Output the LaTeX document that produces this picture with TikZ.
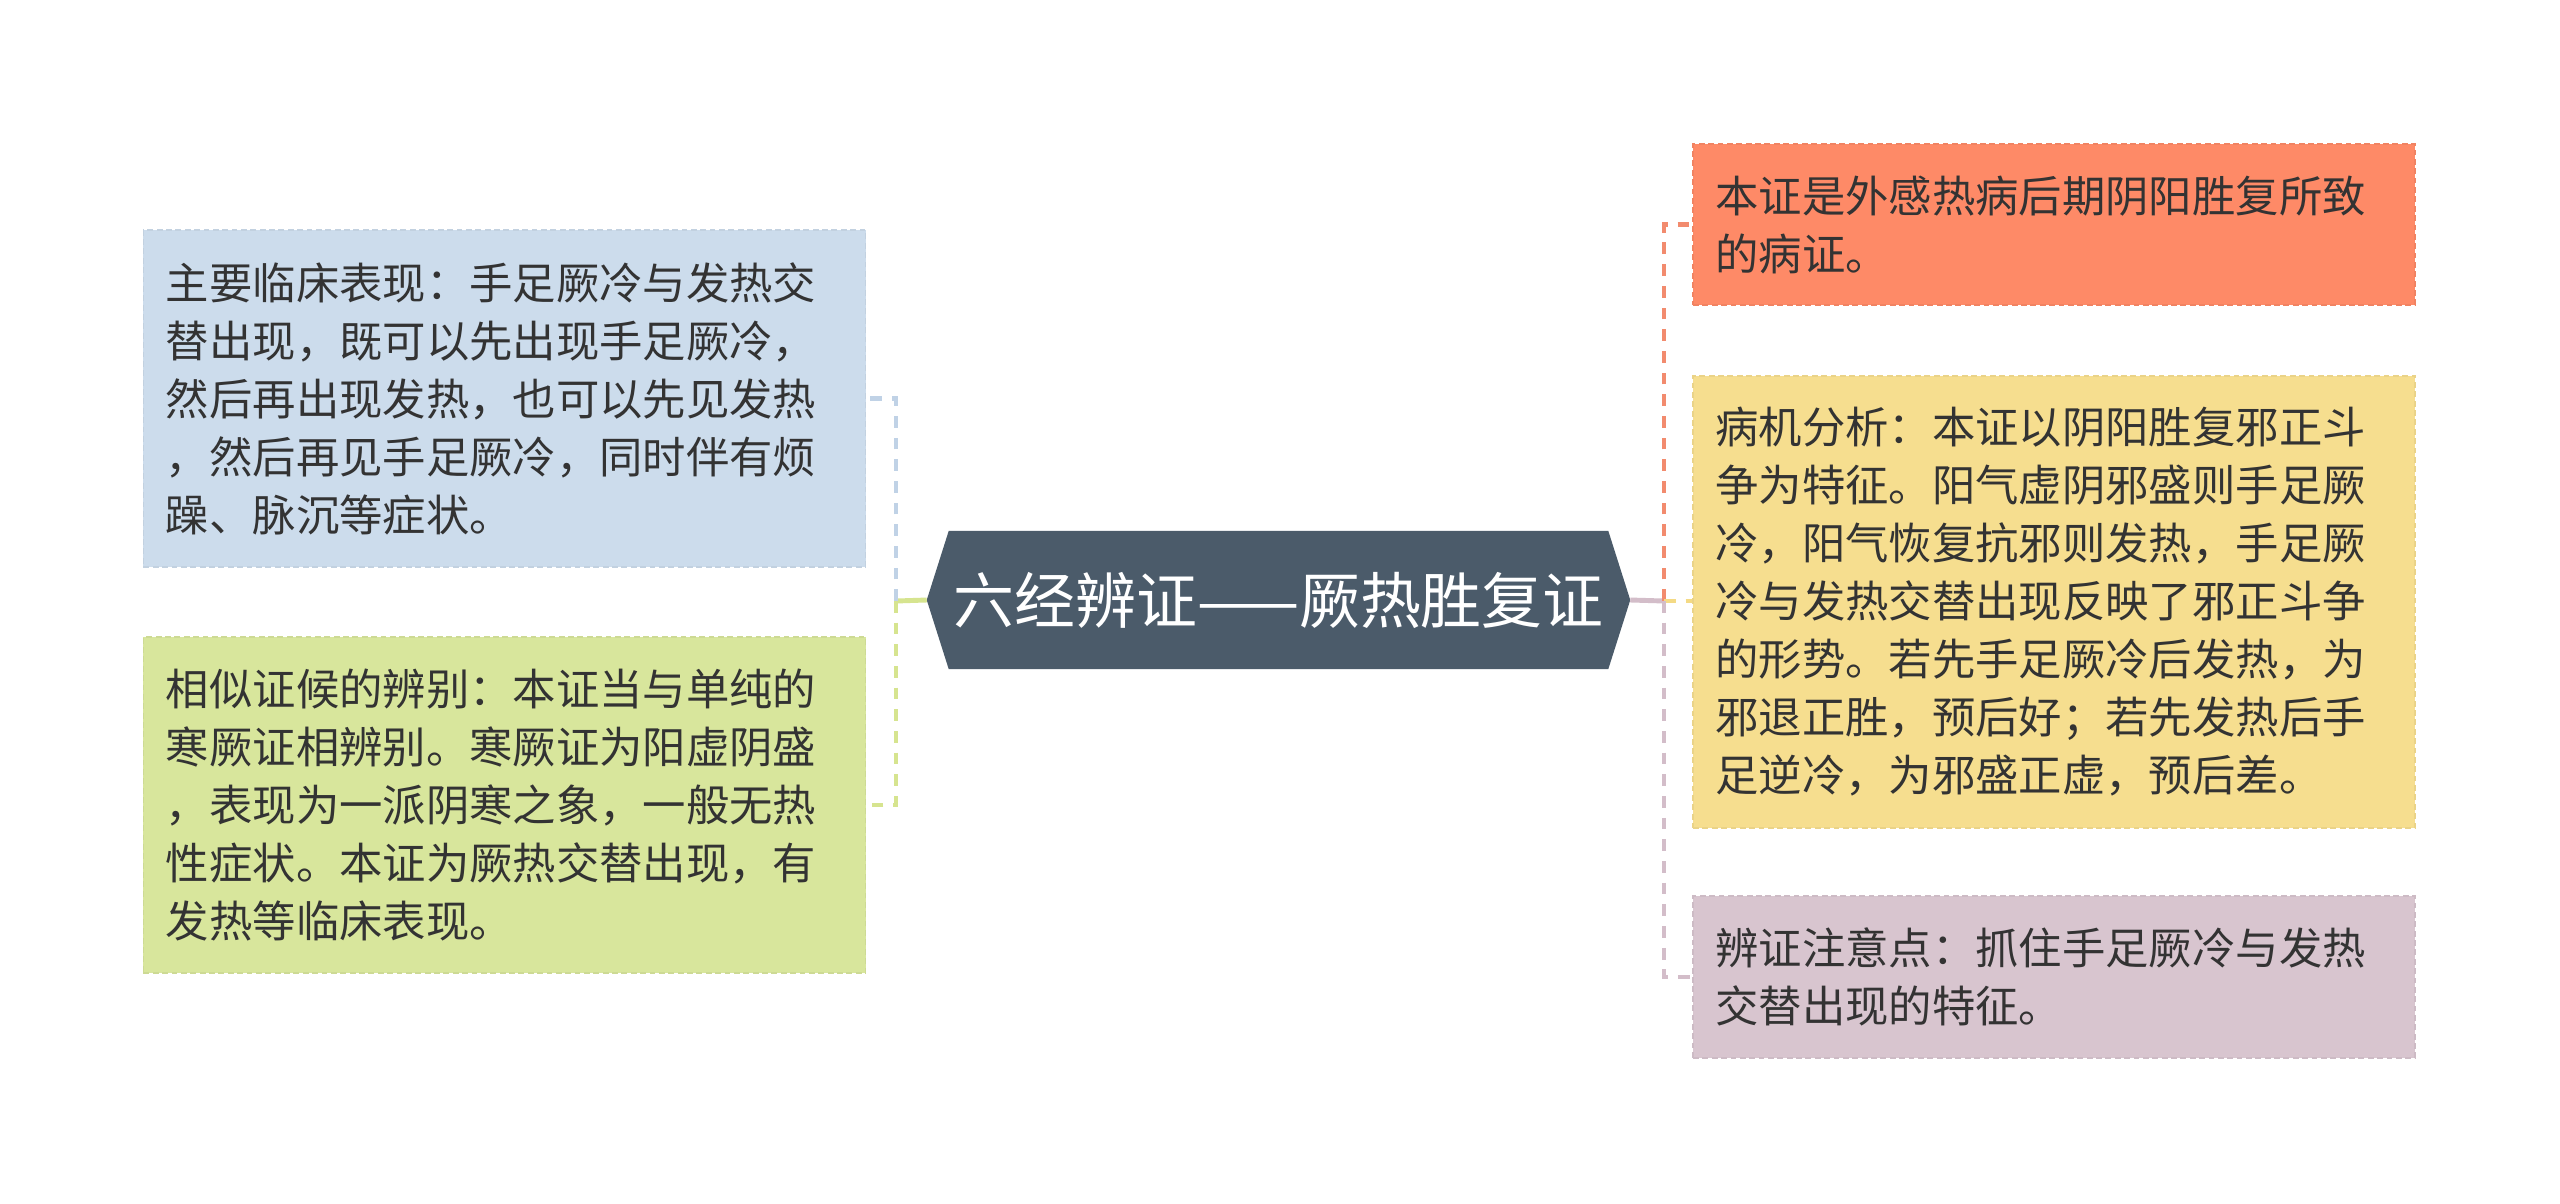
\documentclass[tikz,border=0pt]{standalone}
\usepackage{fontspec}
\newfontfamily\cjk{Noto Sans CJK SC}
\usetikzlibrary{backgrounds,calc}
\definecolor{slate}{HTML}{4B5B6A}
\definecolor{cblue}{HTML}{CCDCEC}
\definecolor{cgreen}{HTML}{D8E69C}
\definecolor{corange}{HTML}{FE8A67}
\definecolor{cyellow}{HTML}{F6DE8F}
\definecolor{cpurple}{HTML}{D8C5CF}
\definecolor{ink}{HTML}{333333}
\definecolor{lblue}{HTML}{C0D2E6}
\definecolor{lgreen}{HTML}{D6E48F}
\definecolor{lorange}{HTML}{F28B6E}
\definecolor{lyellow}{HTML}{F4DA85}
\definecolor{lpurple}{HTML}{D3BDC9}
\begin{document}
\begin{tikzpicture}[x=0.03cm,y=-0.03cm,
  leaf/.style={fill=#1,draw=#1!95!black,dash pattern=on 5pt off 3pt,line width=1.4pt,
    minimum width=21.66cm,text width=20.31cm,align=left,inner xsep=0.66cm,inner ysep=0pt,
    font=\cjk\fontsize{37}{49.5}\selectfont,text=ink},
  conn/.style={line width=4.2pt,dash pattern=on 10pt off 8.5pt},
  trunk/.style={line width=4.2pt}]
\useasboundingbox (0,0) rectangle (2560,1203);

% central node
\node[minimum width=21.09cm,minimum height=4.14cm,inner sep=0pt,text=white,
  font=\cjk\fontsize{52}{62}\selectfont] (c) at (1278.5,600) {六经辨证——厥热胜复证};
\begin{scope}[on background layer]
\fill[white] (0,0) rectangle (2560,1203);
\fill[slate] (c.west) -- ($(c.north west)+(22,0)$) -- ($(c.north east)+(-22,0)$) -- (c.east)
  -- ($(c.south east)+(-22,0)$) -- ($(c.south west)+(22,0)$) -- cycle;
\end{scope}

% leaves
\node[leaf=cblue,minimum height=10.11cm] (blue) at (504.5,398.5) {主要临床表现：手足厥冷与发热交\\替出现，既可以先出现手足厥冷，\\然后再出现发热，也可以先见发热\\，然后再见手足厥冷，同时伴有烦\\躁、脉沉等症状。};
\node[leaf=cgreen,minimum height=10.08cm] (green) at (504.5,805) {相似证候的辨别：本证当与单纯的\\寒厥证相辨别。寒厥证为阳虚阴盛\\，表现为一派阴寒之象，一般无热\\性症状。本证为厥热交替出现，有\\发热等临床表现。};
\node[leaf=corange,minimum height=4.83cm] (orange) at (2054,224.5) {本证是外感热病后期阴阳胜复所致\\的病证。};
\node[leaf=cyellow,minimum height=13.56cm] (yellow) at (2054,602) {病机分析：本证以阴阳胜复邪正斗\\争为特征。阳气虚阴邪盛则手足厥\\冷，阳气恢复抗邪则发热，手足厥\\冷与发热交替出现反映了邪正斗争\\的形势。若先手足厥冷后发热，为\\邪退正胜，预后好；若先发热后手\\足逆冷，为邪盛正虚，预后差。};
\node[leaf=cpurple,minimum height=4.86cm] (purple) at (2054,977) {辨证注意点：抓住手足厥冷与发热\\交替出现的特征。};

% connectors
\coordinate (lb) at (896,601);
\coordinate (rb) at (1664,601);
\draw[trunk,lgreen] (c.west) -- (lb);
\draw[conn,lblue] (lb) |- (blue.east);
\draw[conn,lgreen] (lb) |- (green.east);
\draw[trunk,lpurple] (c.east) -- (rb);
\draw[conn,lorange] (rb) |- (orange.west);
\draw[conn,lyellow] (rb) -- (rb -| yellow.west);
\draw[conn,lpurple] (rb) |- (purple.west);
\end{tikzpicture}
\end{document}
